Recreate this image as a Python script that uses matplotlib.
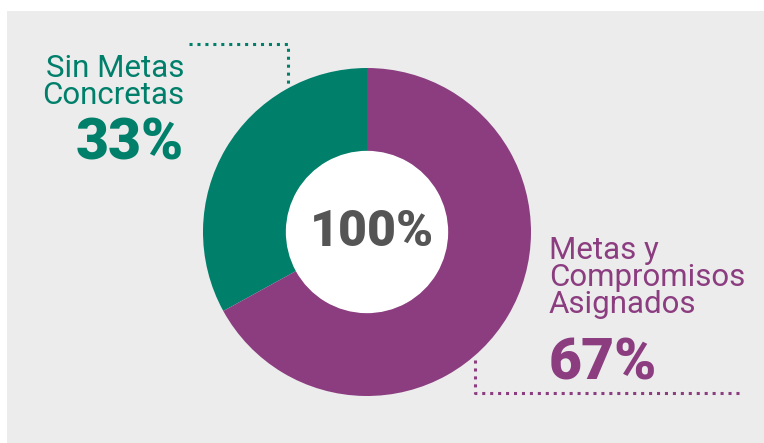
import matplotlib
matplotlib.use("Agg")
import matplotlib.pyplot as plt
from matplotlib.patches import Rectangle, Circle

categories = ["Sin Metas\nConcretas", "Metas y\nCompromisos\nAsignados"]
values = [33, 67]
colors = ["#007F6B", "#8B3D80"]
total_label = f"{sum(values)}%"

W, H = 764, 443
fig = plt.figure(figsize=(W / 100, H / 100), dpi=100)
fig.patch.set_facecolor("white")

# overlay axes in pixel coordinates
ov = fig.add_axes([0, 0, 1, 1])
ov.set_xlim(0, W)
ov.set_ylim(H, 0)
ov.axis("off")
ov.add_patch(Rectangle((7, 11), W - 7, H - 11, facecolor="#ECECEC", edgecolor="none", zorder=0))

# donut
cx, cy, r = 367, 232, 164
pa = fig.add_axes([(cx - r) / W, (H - cy - r) / H, 2 * r / W, 2 * r / H])
pa.pie(values, colors=colors, startangle=90, counterclock=True,
       radius=1.0, wedgeprops=dict(width=0.505, edgecolor="none"))
pa.add_patch(Circle((0, 0), 0.497, facecolor="white", edgecolor="none", zorder=0))
pa.set_xlim(-1, 1)
pa.set_ylim(-1, 1)
pa.axis("off")
pa.text(0.03, 0.0, total_label, ha="center", va="center", fontsize=36,
        fontweight="heavy", color="#555555", family="Roboto")

# leader lines
dot = (0, (1.0, 1.6))
ov.plot([189, 288, 288], [44, 44, 88], color=colors[0], lw=2.2, linestyle=dot,
        dash_capstyle="butt", zorder=1)
ov.plot([475, 475, 742], [360, 393, 393], color=colors[1], lw=2.2, linestyle=dot,
        dash_capstyle="butt", zorder=1)

# labels
ov.text(184, 54, categories[0], ha="right", va="top", fontsize=22.5, color=colors[0],
        family="Roboto", linespacing=0.92)
ov.text(184, 116, f"{values[0]}%", ha="right", va="top", fontsize=41, fontweight="heavy",
        color=colors[0], family="Roboto")
ov.text(549, 236, categories[1], ha="left", va="top", fontsize=22.5, color=colors[1],
        family="Roboto", linespacing=0.92)
ov.text(549, 336, f"{values[1]}%", ha="left", va="top", fontsize=41, fontweight="heavy",
        color=colors[1], family="Roboto")

fig.savefig("out.png", dpi=100, facecolor=fig.get_facecolor())
